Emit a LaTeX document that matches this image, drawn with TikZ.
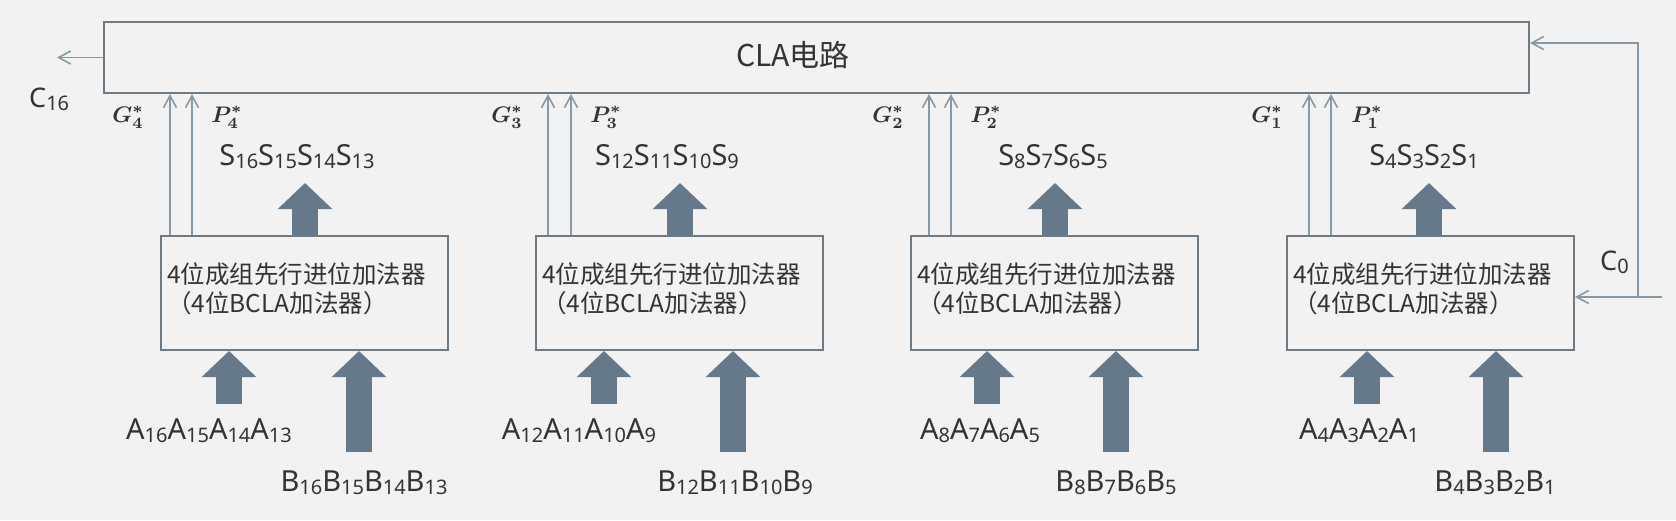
\documentclass[tikz,border=0pt]{standalone}
\usepackage{fontspec}
\setmainfont{Noto Sans}
\newfontfamily\cjk{Noto Sans CJK SC}
\usetikzlibrary{arrows.meta}
\definecolor{bg}{HTML}{F2F2F2}
\definecolor{linec}{HTML}{8899A6}
\definecolor{boxc}{HTML}{6E7B85}
\definecolor{fatc}{HTML}{66798A}
\definecolor{txt}{HTML}{333333}
\newcommand\sbs[1]{\raisebox{-3pt}{\fontsize{20}{20}\selectfont #1}}
\newcommand\gpl[2]{\scalebox{2.25}{\normalsize\boldmath$#1_{#2}^{*}$}}
\begin{document}
\begin{tikzpicture}[x=1pt,y=-1pt,
  boxst/.style={draw=boxc, line width=2pt, inner sep=0pt},
  thinarr/.style={draw=linec, line width=1.6pt, -{Straight Barb[length=12pt,width=13pt]}},
  fatarr/.style={draw=fatc, line width=26pt, -{Triangle[length=26pt,width=53pt]}},
  lab/.style={text=txt, inner sep=0pt, anchor=base, font=\fontsize{29}{29}\selectfont},
  clab/.style={text=txt, inner sep=0pt, anchor=base west, font=\fontsize{27}{27}\selectfont},
  gp/.style={text=txt, inner sep=0pt, anchor=base, font=\normalsize},
  btext/.style={text=txt, inner sep=0pt, anchor=base west, font=\cjk\fontsize{24.5}{29}\selectfont},
]
\fill[bg] (0,0) rectangle (1676,520);
\useasboundingbox (0,0) rectangle (1676,520);

\node[boxst, minimum width=1425pt, minimum height=71pt] (cla) at (816.5,57.5) {};
\node[text=txt, inner sep=0pt, anchor=base west, font=\cjk\fontsize{30}{30}\selectfont] (clat) at (736,66) {CLA电路};

\coordinate (c16end) at (57,57.5);
\draw[thinarr] (cla.west) -- (c16end);
\node[clab] (c16) at (29,107) {C\sbs{16}};

\foreach \k/\L/\gx/\px/\glx/\plx/\slx/\sax/\aax/\alx/\bax/\blx in
 {4/161/170/192/128/227/297/305/229/209/359/364,
  3/536/548/571/507/606/667/680/604/579/733/735,
  2/911/929/951/888/986/1053/1055/987/980/1116/1116,
  1/1287/1309/1331/1267/1367/1424/1429/1367/1359/1496/1495}{
  \pgfmathtruncatemacro\ia{4*\k}
  \pgfmathtruncatemacro\ib{4*\k-1}
  \pgfmathtruncatemacro\ic{4*\k-2}
  \pgfmathtruncatemacro\id{4*\k-3}
  \node[boxst, minimum width=287pt, minimum height=114pt] (b\k) at (\L+143.5,293) {};
  \node[btext] (t\k a) at (\L+6,283) {4位成组先行进位加法器};
  \node[btext] (t\k b) at (\L+6,312) {（4位BCLA加法器）};
  \coordinate (gt\k) at (\gx,0);
  \coordinate (pt\k) at (\px,0);
  \draw[thinarr] (b\k.north -| gt\k) -- (cla.south -| gt\k);
  \draw[thinarr] (b\k.north -| pt\k) -- (cla.south -| pt\k);
  \node[gp] (g\k) at (\glx,122) {\gpl{G}{\k}};
  \node[gp] (p\k) at (\plx,122) {\gpl{P}{\k}};
  \node[lab] (s\k) at (\slx,165) {S\sbs{\ia}S\sbs{\ib}S\sbs{\ic}S\sbs{\id}};
  \coordinate (st\k) at (\sax,183);
  \draw[fatarr] (b\k.north -| st\k) -- (st\k);
  \node[lab] (a\k) at (\alx,439) {A\sbs{\ia}A\sbs{\ib}A\sbs{\ic}A\sbs{\id}};
  \coordinate (ab\k) at (\aax,404);
  \draw[fatarr] (ab\k) -- (ab\k |- b\k.south);
  \node[lab] (bl\k) at (\blx,491) {B\sbs{\ia}B\sbs{\ib}B\sbs{\ic}B\sbs{\id}};
  \coordinate (bb\k) at (\bax,452);
  \draw[fatarr] (bb\k) -- (bb\k |- b\k.south);
}

\coordinate (c0s) at (1662,297);
\coordinate (c0j) at (1638,297);
\coordinate (c0t) at (1638,43);
\draw[thinarr] (c0s) -- (c0s -| b1.east);
\draw[thinarr] (c0j) -- (c0t) -- (c0t -| cla.east);
\node[clab] (c0) at (1600,270) {C\sbs{0}};
\end{tikzpicture}
\end{document}
